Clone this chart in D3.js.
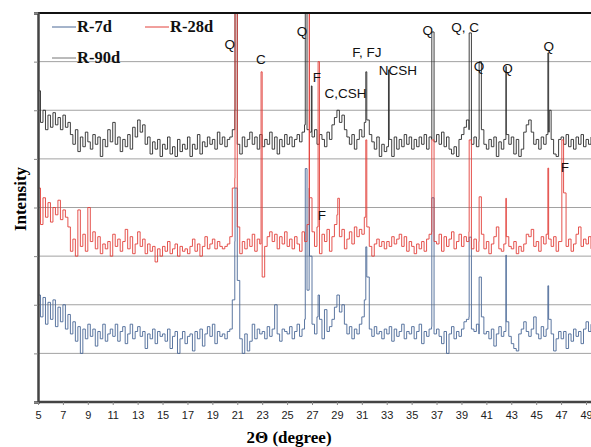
<!DOCTYPE html>
<html>
<head>
<meta charset="utf-8">
<script src="https://cdn.jsdelivr.net/npm/d3@7"></script>
<style>
  body { margin: 0; background: #fff; }
</style>
</head>
<body>
<div id="chart"></div>
<script>
// background scan, one value every 0.2 degree from 5.0 to 49.4
const xStart = 5, xStep = 0.2;

const r90Noise = [
  640, 575, 600, 560, 590, 565, 595, 570, 585, 560,
  590, 565, 575, 550, 530, 560, 515, 545, 525, 555,
  535, 520, 550, 530, 545, 505, 540, 525, 560, 535,
  575, 530, 545, 515, 540, 525, 550, 520, 565, 545,
  580, 555, 570, 530, 545, 510, 535, 520, 540, 505,
  530, 520, 545, 510, 525, 505, 540, 515, 530, 520,
  545, 505, 530, 520, 550, 510, 535, 525, 545, 530,
  540, 520, 555, 530, 545, 525, 540, 545, 560, 600,
  530, 510, 545, 525, 540, 555, 530, 545, 520, 550,
  525, 540, 530, 555, 520, 545, 510, 540, 525, 550,
  530, 545, 525, 540, 550, 535, 555, 570, 560, 555,
  545, 560, 530, 550, 540, 525, 555, 540, 570, 585,
  600, 575, 590, 560, 545, 530, 550, 520, 540, 560,
  545, 575, 580, 550, 535, 520, 545, 505, 530, 515,
  525, 540, 505, 545, 520, 540, 525, 550, 530, 545,
  520, 540, 525, 545, 530, 550, 520, 545, 540, 535,
  550, 530, 555, 525, 545, 520, 510, 525, 505, 540,
  550, 565, 580, 560, 530, 545, 525, 540, 560, 530,
  520, 540, 525, 545, 505, 535, 520, 540, 550, 530,
  545, 510, 540, 505, 520, 555, 570, 580, 555, 530,
  540, 520, 545, 530, 550, 555, 540, 510, 505, 540,
  545, 530, 550, 525, 540, 520, 545, 530, 550, 525,
  540, 530, 545
];

const r28Noise = [
  440, 365, 420, 380, 410, 370, 400, 385, 415, 375,
  395, 380, 360, 310, 335, 300, 395, 320, 345, 310,
  400, 330, 350, 315, 340, 305, 325, 315, 330, 300,
  345, 320, 335, 310, 330, 355, 315, 340, 305, 325,
  350, 320, 335, 305, 325, 310, 320, 288, 315, 300,
  320, 310, 330, 305, 315, 325, 300, 320, 310, 315,
  305, 320, 335, 310, 325, 300, 320, 340, 315, 325,
  335, 315, 330, 320, 315, 320, 325, 340, 440, 460,
  360, 305, 330, 315, 335, 320, 345, 310, 335, 325,
  257, 320, 340, 350, 330, 345, 315, 340, 325, 350,
  320, 335, 315, 340, 325, 310, 350, 330, 365, 420,
  350, 320, 360, 305, 345, 330, 355, 310, 340, 365,
  385, 340, 355, 315, 335, 350, 325, 360, 340, 355,
  345, 380, 360, 320, 300, 325, 335, 320, 330, 315,
  330, 320, 340, 325, 335, 345, 320, 340, 310, 330,
  320, 305, 325, 315, 330, 310, 335, 345, 350, 330,
  325, 345, 310, 340, 320, 335, 350, 315, 330, 345,
  320, 340, 330, 350, 315, 335, 310, 330, 345, 315,
  330, 305, 325, 340, 360, 315, 310, 325, 340, 320,
  315, 330, 305, 320, 310, 325, 345, 340, 355, 320,
  330, 310, 340, 325, 345, 335, 320, 340, 310, 330,
  330, 430, 320, 335, 310, 325, 345, 360, 320, 335,
  325, 340, 315
];

const r7Noise = [
  220, 175, 215, 160, 205, 170, 210, 155, 195, 165,
  200, 150, 180, 140, 165, 125, 155, 100, 150, 130,
  160, 135, 150, 115, 145, 130, 160, 125, 140, 150,
  135, 160, 125, 145, 155, 120, 140, 160, 130, 145,
  155, 135, 145, 110, 140, 130, 150, 120, 145, 135,
  140, 125, 150, 110, 135, 145, 100, 130, 145, 120,
  135, 140, 105, 145, 130, 150, 115, 140, 155, 135,
  160, 120, 145, 135, 140, 130, 145, 150, 210, 330,
  250, 130, 100, 140, 105, 125, 160, 130, 150, 140,
  145, 130, 155, 135, 150, 200, 140, 125, 150, 145,
  140, 155, 130, 145, 160, 135, 150, 170, 230, 300,
  160, 140, 175, 170, 130, 190, 145, 155, 170, 195,
  220, 185, 200, 160, 140, 155, 130, 150, 140, 160,
  175, 210, 257, 150, 135, 155, 140, 145, 130, 150,
  140, 155, 125, 150, 135, 145, 160, 130, 145, 140,
  155, 130, 145, 160, 120, 145, 135, 150, 155, 140,
  150, 135, 120, 145, 100, 140, 155, 130, 145, 135,
  150, 165, 170, 175, 150, 145, 160, 140, 175, 140,
  145, 130, 150, 115, 140, 155, 135, 145, 165, 135,
  120, 110, 105, 140, 150, 165, 145, 135, 150, 175,
  140, 130, 155, 135, 150, 170, 140, 105, 130, 145,
  130, 145, 110, 140, 125, 150, 135, 145, 120, 150,
  165, 145, 160
];

// sharp reflections [2theta, intensity]
const r90Peaks = [[20.82, 1000], [26.46, 1000], [26.95, 650], [31.32, 679], [33.14, 683],
  [36.62, 761], [39.62, 759], [40.42, 700], [42.57, 690], [45.94, 718], [46.05, 600]];
const r28Peaks = [[20.82, 1000], [22.91, 679], [26.77, 1000], [27.49, 700], [29.07, 419],
  [31.32, 539], [36.62, 539], [39.62, 539], [40.42, 422], [42.57, 419], [45.94, 481], [47.06, 539]];
const r7Peaks = [[20.82, 440], [26.46, 480], [26.77, 440], [27.49, 220], [31.32, 319],
  [36.62, 420], [39.62, 339], [40.42, 257], [42.57, 302], [45.94, 239]];

const xTicks = d3.range(5, 50, 2);
const yTicks = [0, 100, 200, 300, 400, 500, 600, 700, 800];

// phase labels: text, 2theta, intensity at label centre
const phaseLabels = [
  ["Q", 20.4, 735], ["C", 22.9, 705], ["Q", 26.2, 763], ["F", 27.4, 668],
  ["C,CSH", 29.7, 634], ["F, FJ", 31.4, 720], ["NCSH", 33.9, 683],
  ["Q", 36.3, 765], ["Q, C", 39.3, 771], ["Q", 40.4, 691], ["Q", 42.7, 687],
  ["Q", 46.0, 732], ["F", 27.8, 385], ["F", 47.3, 483]
];

const series = [
  { name: "R-7d", color: "#4a6896", noise: r7Noise, peaks: r7Peaks },
  { name: "R-90d", color: "#2a2a2a", noise: r90Noise, peaks: r90Peaks },
  { name: "R-28d", color: "#e2403a", noise: r28Noise, peaks: r28Peaks }
];

const width = 591, height = 447;
const margin = { top: 13, bottom: 402, left: 38 };

const x = d3.scaleLinear().domain([5, 49]).range([38, 586]);
const y = d3.scaleLinear().domain([0, 800]).range([402, 13]);

const svg = d3.select("#chart")
  .append("svg")
  .attr("width", width)
  .attr("height", height);

svg.append("defs").append("clipPath")
  .attr("id", "plot")
  .append("rect")
  .attr("x", margin.left)
  .attr("y", margin.top)
  .attr("width", width - margin.left)
  .attr("height", margin.bottom - margin.top);

// gridlines
svg.append("g")
  .selectAll("line")
  .data(yTicks.slice(1, -1))
  .join("line")
  .attr("x1", margin.left)
  .attr("x2", width)
  .attr("y1", d => y(d))
  .attr("y2", d => y(d))
  .attr("stroke", "#a2a2a2")
  .attr("stroke-width", 1);

// scans, drawn as steps like the counter output
const line = d3.line()
  .curve(d3.curveStepAfter)
  .x(d => x(d[0]))
  .y(d => y(d[1]));

const plot = svg.append("g").attr("clip-path", "url(#plot)");

series.forEach(s => {
  const pts = s.noise.map((v, i) => [xStart + i * xStep, v])
    .concat(s.peaks)
    .sort((a, b) => a[0] - b[0]);
  plot.append("path")
    .datum(pts)
    .attr("fill", "none")
    .attr("stroke", s.color)
    .attr("stroke-width", 0.9)
    .attr("d", line);
});

// frame: top border, axes
svg.append("line")
  .attr("x1", margin.left).attr("x2", width)
  .attr("y1", margin.top).attr("y2", margin.top)
  .attr("stroke", "#111").attr("stroke-width", 2);

const yAxis = svg.append("g")
  .attr("transform", `translate(${margin.left},0)`)
  .call(d3.axisLeft(y).tickValues(yTicks).tickSize(4).tickFormat(""));
yAxis.select(".domain").attr("stroke", "#444").attr("stroke-width", 2.5);
yAxis.selectAll(".tick line").attr("stroke", "#888");

const xAxis = svg.append("g")
  .attr("transform", `translate(0,${margin.bottom})`)
  .call(d3.axisBottom(x).tickValues(xTicks).tickSize(3).tickPadding(6));
xAxis.select(".domain").attr("stroke", "#444").attr("stroke-width", 2.5)
  .attr("d", `M${margin.left},0H${width}`);
xAxis.selectAll(".tick line").attr("stroke", "#888");
xAxis.selectAll(".tick text")
  .attr("fill", "#222")
  .style("font-family", "'Liberation Sans', Arial, sans-serif")
  .style("font-size", "11px");

// axis titles
svg.append("text")
  .attr("x", 289)
  .attr("y", 443)
  .attr("text-anchor", "middle")
  .style("font-family", "'Liberation Serif', 'Times New Roman', serif")
  .style("font-weight", "bold")
  .style("font-size", "17px")
  .text("2Θ (degree)");

svg.append("text")
  .attr("transform", "translate(26,199) rotate(-90)")
  .attr("text-anchor", "middle")
  .style("font-family", "'Liberation Serif', 'Times New Roman', serif")
  .style("font-weight", "bold")
  .style("font-size", "17px")
  .text("Intensity");

// phase labels
svg.append("g")
  .selectAll("text")
  .data(phaseLabels)
  .join("text")
  .attr("x", d => x(d[1]))
  .attr("y", d => y(d[2]))
  .attr("dy", "0.35em")
  .attr("text-anchor", "middle")
  .attr("fill", "#111")
  .style("font-family", "'Liberation Sans', Arial, sans-serif")
  .style("font-size", "13.5px")
  .text(d => d[0]);

// legend
const legendItems = [
  { name: "R-7d", color: "#4a6896", lx: 52, ly: 27 },
  { name: "R-28d", color: "#e2403a", lx: 145, ly: 27 },
  { name: "R-90d", color: "#777", lx: 52, ly: 58 }
];
const legend = svg.append("g");
legendItems.forEach(d => {
  legend.append("line")
    .attr("x1", d.lx).attr("x2", d.lx + 24)
    .attr("y1", d.ly).attr("y2", d.ly)
    .attr("stroke", d.color).attr("stroke-width", 1);
  legend.append("text")
    .attr("x", d.lx + 25)
    .attr("y", d.ly + 5)
    .attr("fill", "#111")
    .style("font-family", "'Liberation Serif', 'Times New Roman', serif")
    .style("font-weight", "bold")
    .style("font-size", "16.5px")
    .text(d.name);
});
</script>
</body>
</html>
